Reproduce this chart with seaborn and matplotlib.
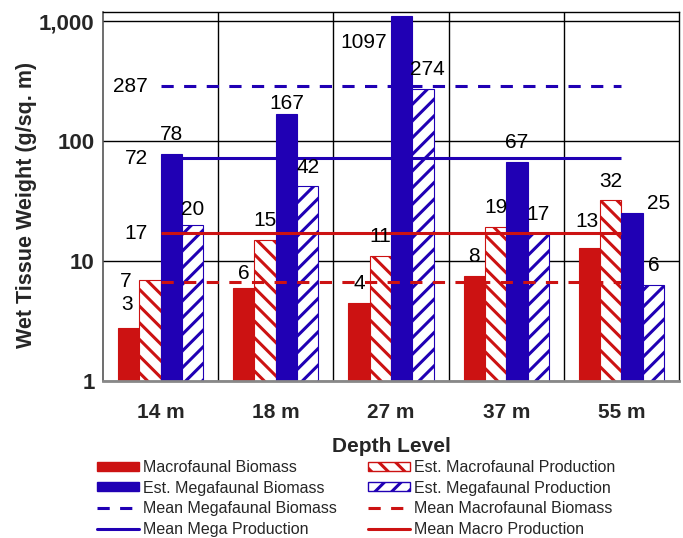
import numpy as np
import pandas as pd
import matplotlib
matplotlib.use("Agg")
import matplotlib.pyplot as plt
import seaborn as sns
from matplotlib.patches import Patch
from matplotlib.lines import Line2D

# data
depths = ["14 m", "18 m", "27 m", "37 m", "55 m"]
series = ["Macrofaunal Biomass", "Est. Macrofaunal Production",
          "Est. Megafaunal Biomass", "Est. Megafaunal Production"]

macro_biomass = [2.75, 5.95, 4.45, 7.5, 12.8]
macro_production = [6.95, 15.0, 11.0, 19.2, 32.0]
mega_biomass = [78, 167, 1097, 67, 25]
mega_production = [20, 42, 274, 17, 6.3]

macro_biomass_labels = ["3", "6", "4", "8", "13"]
macro_production_labels = ["", "15", "11", "19", "32"]
mega_biomass_labels = ["78", "167", "1097", "67", "25"]
mega_production_labels = ["20", "42", "274", "17", "6"]

mean_names = ["Mean Megafaunal Biomass", "Mean Mega Production",
              "Mean Macrofaunal Biomass", "Mean Macro Production"]
mean_values = [287, 72, 6.7, 17]
mean_labels = ["287", "72", "7", "17"]

RED = "#CC1212"
BLUE = "#2000B4"

df = pd.DataFrame({
    "Depth": depths * 4,
    "Weight": macro_biomass + macro_production + mega_biomass + mega_production,
    "Series": np.repeat(series, len(depths)),
})

sns.set_theme(style="white")
plt.rcParams["font.family"] = ["Liberation Sans", "DejaVu Sans"]
plt.rcParams["hatch.linewidth"] = 2.2

fig = plt.figure(figsize=(6.83, 5.38), dpi=100)
ax = fig.add_axes([103 / 683, 1 - 381 / 538, 576 / 683, 369 / 538])

sns.barplot(
    data=df, x="Depth", y="Weight", hue="Series", hue_order=series,
    palette=[RED, RED, BLUE, BLUE], saturation=1, width=0.74, gap=0,
    errorbar=None, legend=False, ax=ax
)
ax.set_yscale("log", nonpositive="clip")

# solid / hatched look
hatches = [None, "\\\\", None, "//"]
edges = [RED, RED, BLUE, BLUE]
for cont, h, ec in zip(ax.containers, hatches, edges):
    for bar in cont:
        bar.set_edgecolor(ec)
        bar.set_linewidth(0.8)
        if h:
            bar.set_facecolor("white")
            bar.set_hatch(h)

# value labels
all_labels = [macro_biomass_labels, macro_production_labels,
              mega_biomass_labels, mega_production_labels]
special = {
    (2, 2): dict(dx=-3, dy=-26, ha="right"),   # 1097
    (2, 4): dict(dx=3, dy=0, ha="left"),       # 25
    (2, 1): dict(dx=0, dy=1, ha="center"),     # 167
    (0, 4): dict(dx=-2, dy=12, ha="center"),   # 13
    (0, 0): dict(dx=-1, dy=10, ha="center"),   # 3
    (3, 0): dict(dx=0, dy=4, ha="center"),     # 20
    (0, 1): dict(dx=0, dy=4, ha="center"),     # 6
    (3, 2): dict(dx=3, dy=7, ha="center"),     # 274
}
for si, (cont, labs) in enumerate(zip(ax.containers, all_labels)):
    for bi, (bar, lab) in enumerate(zip(cont, labs)):
        if not lab:
            continue
        opt = special.get((si, bi), dict(dx=0, dy=7, ha="center"))
        if opt["ha"] == "right":
            x = bar.get_x()
        elif opt["ha"] == "left":
            x = bar.get_x() + bar.get_width()
        else:
            x = bar.get_x() + bar.get_width() / 2
        ax.annotate(lab, (x, bar.get_height()), xytext=(opt["dx"], opt["dy"]),
                    textcoords="offset points", ha=opt["ha"], va="bottom",
                    fontsize=15, color="black", zorder=5)

# mean lines
mean_colors = [BLUE, BLUE, RED, RED]
mean_dashed = [True, False, True, False]
mean_label_dx = [-9, -9, -21, -9]
x0, x1 = 0, len(depths) - 1
for val, lab, col, dashed, dx in zip(mean_values, mean_labels, mean_colors,
                                     mean_dashed, mean_label_dx):
    ln, = ax.plot([x0, x1], [val, val], color=col, lw=2.2, zorder=4,
                  solid_capstyle="butt")
    if dashed:
        ln.set_dashes((4, 3.4))
    ax.annotate(lab, (x0, val), xytext=(dx, 0), textcoords="offset points",
                ha="right", va="center", fontsize=15, color="black", zorder=5)

ax.set_ylim(1, 1190)
ax.set_xlim(-0.5, len(depths) - 0.5)
ax.set_yticks([1, 10, 100, 1000])
ax.set_yticklabels(["1", "10", "100", "1,000"], fontsize=16, fontweight="bold")
ax.minorticks_off()
ax.tick_params(axis="y", length=0, pad=6)
ax.tick_params(axis="x", length=0, pad=15.5)
for t in ax.get_xticklabels():
    t.set_fontsize(15)
    t.set_fontweight("bold")

ax.set_axisbelow(True)
ax.yaxis.grid(True, color="black", lw=1.0)
for xv in np.arange(0.5, len(depths) - 0.5, 1):
    ax.axvline(xv, color="black", lw=1.0, zorder=0.5)

for side in ["top", "right"]:
    ax.spines[side].set_color("black")
    ax.spines[side].set_linewidth(1.0)
ax.spines["left"].set_color("#555555")
ax.spines["left"].set_linewidth(1.2)
ax.spines["bottom"].set_color("#888888")
ax.spines["bottom"].set_linewidth(2.0)

ax.set_xlabel("Depth Level", fontsize=15, fontweight="bold", labelpad=11)
ax.set_ylabel("Wet Tissue Weight (g/sq. m)", fontsize=15.5, fontweight="bold")
ax.yaxis.set_label_coords(-0.114, 0.477)

handles = [
    Patch(facecolor=RED, edgecolor=RED, label="Macrofaunal Biomass"),
    Patch(facecolor=BLUE, edgecolor=BLUE, label="Est. Megafaunal Biomass"),
    Line2D([], [], color=BLUE, lw=2.2, dashes=(4, 3.4), label="Mean Megafaunal Biomass"),
    Line2D([], [], color=BLUE, lw=2.2, label="Mean Mega Production"),
    Patch(facecolor="white", edgecolor=RED, hatch="\\\\", label="Est. Macrofaunal Production"),
    Patch(facecolor="white", edgecolor=BLUE, hatch="//", label="Est. Megafaunal Production"),
    Line2D([], [], color=RED, lw=2.2, dashes=(4, 3.4), label="Mean Macrofaunal Biomass"),
    Line2D([], [], color=RED, lw=2.2, label="Mean Macro Production"),
]
fig.legend(handles=handles, ncol=2, loc="upper left",
           bbox_to_anchor=(97 / 683, 1 - 460 / 538), frameon=False,
           fontsize=11.5, handlelength=2.6, handleheight=0.5,
           handletextpad=0.25, labelspacing=0.35, columnspacing=2.0,
           borderpad=0, borderaxespad=0)

fig.savefig("out.png", dpi=100)
